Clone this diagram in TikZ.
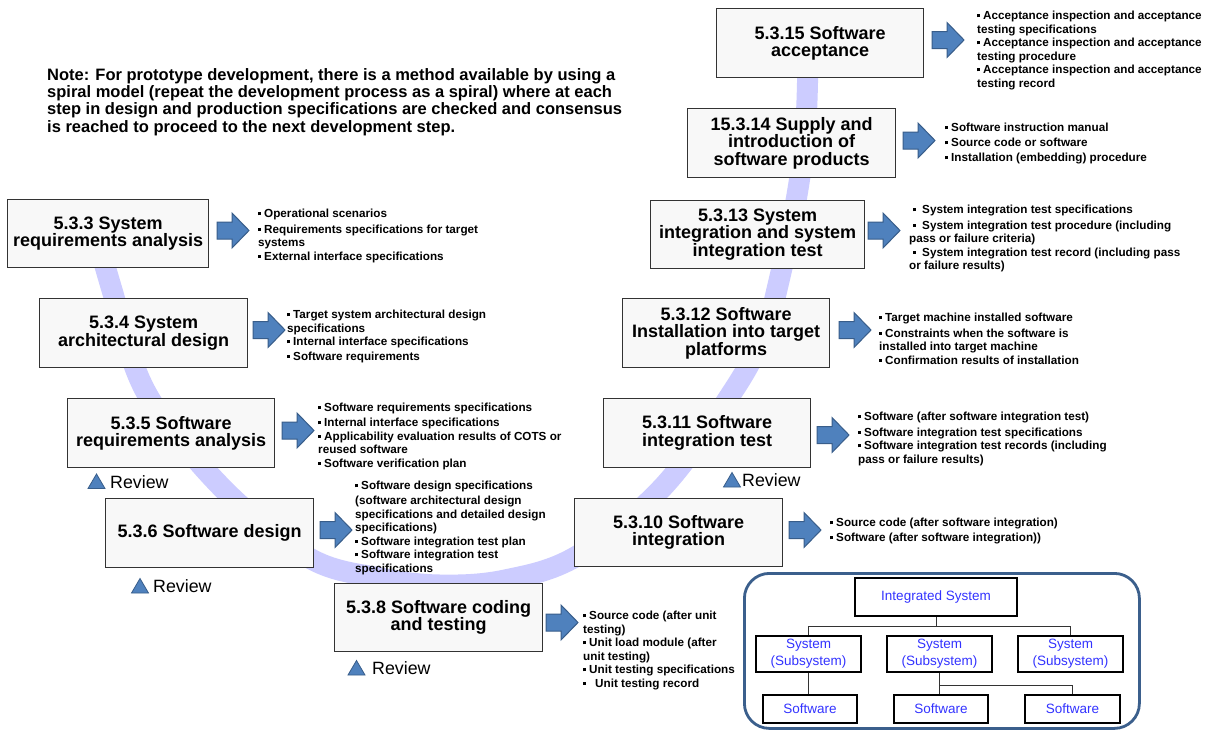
\documentclass[tikz,border=0pt]{standalone}
\usepackage{fontspec}
\setmainfont{Liberation Sans}
\definecolor{band}{RGB}{204,204,255}
\definecolor{arrowfill}{RGB}{79,129,189}
\definecolor{arrowline}{RGB}{56,93,138}
\definecolor{boxfill}{RGB}{248,248,248}
\definecolor{sysblue}{RGB}{51,51,255}
\definecolor{frameblue}{RGB}{59,95,140}
\newcommand\mybul{\rule[2.2pt]{3pt}{3pt}\hspace{3pt}}
\tikzset{
  stepbox/.style={draw=black!80, line width=1.2pt, fill=boxfill, align=center, inner sep=0pt, anchor=north west, font=\bfseries\fontsize{18}{17.5}\selectfont},
  outtext/.style={anchor=north west, align=left, inner sep=0pt, font=\bfseries\fontsize{11.7}{13.5}\selectfont},
  notetext/.style={anchor=north west, align=left, inner sep=0pt, font=\bfseries\fontsize{16.5}{17.3}\selectfont},
  revtext/.style={anchor=west, inner sep=0pt, font=\fontsize{17.8}{20}\selectfont},
  sysbox/.style={draw=black, line width=2pt, fill=white, align=center, inner sep=0pt, text=sysblue, font=\fontsize{13.5}{17}\selectfont},
  conn/.style={draw=black!80, line width=0.8pt},
  bandline/.style={draw=band, line width=21pt},
  frame/.style={draw=frameblue, line width=2.8pt, rounded corners=25pt, anchor=north west, inner sep=0pt},
  blockarrow/.pic={\path[fill=arrowfill, draw=arrowline, line width=1pt] (0,-8.5)--(15,-8.5)--(15,-17.5)--(32,0)--(15,17.5)--(15,8.5)--(0,8.5)--cycle;},
  revtri/.pic={\path[fill=arrowfill, draw=arrowline, line width=0.8pt] (-8.5,7)--(8.5,7)--(0,-7.5)--cycle;}
}
\begin{document}
\begin{tikzpicture}[x=1pt,y=-1pt]
\fill[white] (0,0) rectangle (1210,729);
\useasboundingbox (0,0) rectangle (1210,729);

% spiral band
\draw[bandline] plot[smooth, tension=0.6] coordinates {(95,230) (112,290) (140,380) (180,440) (240,505) (313,560) (380,578) (440,585) (505,580) (577,556) (662,488) (735,388) (765,330) (778,285) (797,195) (806,120) (808,45)};

% note
\node[notetext] (note) at (47,68) {Note: For prototype development, there is a method available by using a\\spiral model (repeat the development process as a spiral) where at each\\step in design and production specifications are checked and consensus\\is reached to proceed to the next development step.};

% process boxes
\node[stepbox, minimum width=201pt, minimum height=68pt] (b533) at (7,199) {5.3.3 System\\requirements analysis};
\node[stepbox, minimum width=208pt, minimum height=69pt] (b534) at (39,298) {5.3.4 System\\architectural design};
\node[stepbox, minimum width=207pt, minimum height=69pt] (b535) at (67,398) {5.3.5 Software\\requirements analysis};
\node[stepbox, minimum width=208pt, minimum height=69pt] (b536) at (105,498) {5.3.6 Software design};
\node[stepbox, minimum width=208pt, minimum height=68pt] (b538) at (334,583) {5.3.8 Software coding\\and testing};
\node[stepbox, minimum width=208pt, minimum height=68pt] (b5310) at (574,498) {5.3.10 Software\\integration};
\node[stepbox, minimum width=207pt, minimum height=69pt] (b5311) at (603,398) {5.3.11 Software\\integration test};
\node[stepbox, minimum width=207pt, minimum height=69pt] (b5312) at (622,298) {5.3.12 Software\\Installation into target\\platforms};
\node[stepbox, minimum width=214pt, minimum height=68pt] (b5313) at (650,200) {5.3.13 System\\integration and system\\integration test};
\node[stepbox, minimum width=208pt, minimum height=69pt] (b15314) at (687,108) {15.3.14 Supply and\\introduction of\\software products};
\node[stepbox, minimum width=207pt, minimum height=69pt] (b5315) at (716,8) {5.3.15 Software\\acceptance};

% block arrows
\pic (a533) at (217,230.5) {blockarrow};
\pic (a534) at (253,330) {blockarrow};
\pic (a535) at (282,430.5) {blockarrow};
\pic (a536) at (320,530) {blockarrow};
\pic (a538) at (546,622.5) {blockarrow};
\pic (a5310) at (789,530) {blockarrow};
\pic (a5311) at (817,435) {blockarrow};
\pic (a5312) at (839,330) {blockarrow};
\pic (a5313) at (868,230.5) {blockarrow};
\pic (a15314) at (903,140.5) {blockarrow};
\pic (a5315) at (932,40) {blockarrow};

% outputs
\node[outtext] (t533) at (258,209) {\mybul Operational scenarios\\[2pt]\mybul Requirements specifications for target\\systems\\\mybul External interface specifications};
\node[outtext] (t534) at (287,310) {\mybul Target system  architectural design\\specifications\\\mybul Internal interface specifications\\[1pt]\mybul Software requirements};
\node[outtext] (t535) at (318,403) {\mybul Software requirements specifications\\[1.5pt]\mybul Internal interface specifications\\\mybul Applicability evaluation results of  COTS or\\reused software\\\mybul Software verification plan};
\node[outtext] (t536) at (355,481) {\mybul Software design specifications\\[1.5pt](software architectural design\\specifications and detailed design\\specifications)\\\mybul Software integration test plan\\\mybul Software integration test\\specifications};
\node[outtext] (t538) at (583,611) {\mybul Source code (after unit\\testing)\\\mybul Unit load module (after\\unit testing)\\\mybul Unit testing specifications\\\mybul\hspace{6pt}Unit testing record};
\node[outtext] (t5310) at (830,518) {\mybul Source code (after software integration)\\[1.5pt]\mybul Software (after software integration))};
\node[outtext] (t5311) at (858,412) {\mybul Software (after software integration test)\\[2pt]\mybul Software integration test specifications\\\mybul Software integration test records (including\\pass or failure results)};
\node[outtext] (t5312) at (879,313) {\mybul Target machine installed software\\[2pt]\mybul Constraints when the software is\\installed into target machine\\\mybul Confirmation results of installation};
\node[outtext] (t5313) at (909,205) {\hspace{4pt}\mybul\hspace{3pt}System integration test specifications\\[2pt]\hspace{4pt}\mybul\hspace{3pt}System integration test procedure (including\\pass or failure criteria)\\\hspace{4pt}\mybul\hspace{3pt}System integration test record (including pass\\or failure results)};
\node[outtext] (t15314) at (945,123) {\mybul Software instruction manual\\[1.5pt]\mybul Source code or software\\[1.5pt]\mybul Installation (embedding) procedure};
\node[outtext] (t5315) at (977,11) {\mybul Acceptance  inspection and acceptance\\testing specifications\\\mybul Acceptance  inspection and acceptance\\testing procedure\\\mybul Acceptance  inspection and acceptance\\testing record};

% reviews
\pic (v535) at (96.5,481.5) {revtri};
\node[revtext] (r535) at (110,482) {Review};
\pic (v536) at (140,586) {revtri};
\node[revtext] (r536) at (153,586) {Review};
\pic (v538) at (356.5,668) {revtri};
\node[revtext] (r538) at (372,668) {Review};
\pic (v5311) at (732,480) {revtri};
\node[revtext] (r5311) at (742,480) {Review};

% system hierarchy
\node[frame, minimum width=395pt, minimum height=155pt] (frm) at (743,572) {};
\node[sysbox, minimum width=162pt, minimum height=38pt] (intsys) at (936,597) {Integrated System};
\node[sysbox, minimum width=105pt, minimum height=36pt] (sys1) at (808.5,654) {System\\(Subsystem)};
\node[sysbox, minimum width=105pt, minimum height=36pt] (sys2) at (939.5,654) {System\\(Subsystem)};
\node[sysbox, minimum width=105pt, minimum height=36pt] (sys3) at (1070.5,654) {System\\(Subsystem)};
\node[sysbox, minimum width=94pt, minimum height=28pt] (sw1) at (810,709) {Software};
\node[sysbox, minimum width=94pt, minimum height=28pt] (sw2) at (941,709) {Software};
\node[sysbox, minimum width=95pt, minimum height=28pt] (sw3) at (1072.5,709) {Software};
\coordinate (h1) at (0,626);
\coordinate (h2) at (0,685);
\draw[conn] (intsys.south) -- (intsys.south |- h1);
\draw[conn] (sys1.north) |- (sys3.north |- h1) -- (sys3.north);
\draw[conn] (sys1.south) -- (sys1.south |- sw1.north);
\draw[conn] (sys2.south) -- (sys2.south |- sw2.north);
\draw[conn] (sys2.south |- h2) -| (sw3.north);
\end{tikzpicture}
\end{document}
